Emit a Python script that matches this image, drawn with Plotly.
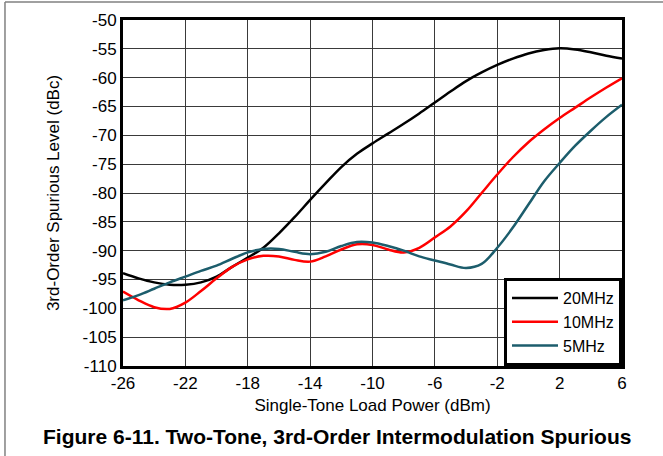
import plotly.graph_objects as go

load_power = [-26, -25, -24, -23, -22, -21, -20, -19, -18, -17, -16, -15, -14, -13, -12, -11, -10,
              -9, -8, -7, -6, -5, -4, -3, -2, -1, 0, 1, 2, 3, 4, 5, 6]

spur_20mhz = [-93.9, -94.8, -95.5, -95.9, -95.9, -95.5, -94.5, -92.8, -91.2, -89.5, -87.0, -84.2,
              -81.2, -78.3, -75.5, -73.2, -71.4, -69.7, -68.0, -66.2, -64.3, -62.4, -60.6, -59.1,
              -57.8, -56.7, -55.8, -55.2, -54.9, -55.1, -55.6, -56.2, -56.7]

spur_10mhz = [-97.1, -98.6, -99.8, -100.1, -99.0, -97.0, -94.8, -92.8, -91.5, -90.9, -91.0, -91.6,
              -91.9, -91.0, -89.8, -88.9, -89.0, -89.8, -90.3, -89.5, -87.7, -85.8, -83.2, -80.0,
              -76.8, -73.8, -71.2, -69.0, -67.0, -65.2, -63.4, -61.7, -60.1]

spur_5mhz = [-98.6, -97.7, -96.6, -95.5, -94.5, -93.5, -92.6, -91.4, -90.3, -89.7, -89.7, -90.2,
             -90.6, -90.2, -89.2, -88.5, -88.6, -89.2, -90.0, -91.0, -91.7, -92.4, -93.0, -92.3,
             -89.5, -86.0, -82.0, -78.0, -74.8, -71.8, -69.2, -66.8, -64.7]

x_ticks = [-26, -22, -18, -14, -10, -6, -2, 2, 6]
y_ticks = [-110, -105, -100, -95, -90, -85, -80, -75, -70, -65, -60, -55, -50]

series = [
    ("20MHz", spur_20mhz, "#000000"),
    ("10MHz", spur_10mhz, "#FF0000"),
    ("5MHz", spur_5mhz, "#1C5D6C"),
]

fig = go.Figure()
for name, vals, color in series:
    fig.add_trace(go.Scatter(
        x=load_power, y=vals, name=name, mode="lines",
        line=dict(color=color, width=2.5, shape="spline", smoothing=1.0),
    ))

font_family = "Liberation Sans, Arial, sans-serif"

fig.update_layout(
    width=663, height=456,
    margin=dict(l=123, r=41, t=20, b=90),
    paper_bgcolor="white", plot_bgcolor="white",
    font=dict(family=font_family, size=17, color="black"),
    showlegend=True,
    legend=dict(
        x=1, y=0, xanchor="right", yanchor="bottom",
        bgcolor="white", bordercolor="black", borderwidth=3,
        font=dict(size=16, color="black"),
        itemwidth=46,
    ),
    xaxis=dict(
        range=[-26, 6], tickvals=x_ticks, ticktext=[str(v) for v in x_ticks],
        showgrid=True, gridcolor="#3a3a3a", gridwidth=1,
        showline=True, linecolor="black", linewidth=3, mirror=True,
        ticks="", zeroline=False,
        title=dict(text="Single-Tone Load Power (dBm)", font=dict(size=17), standoff=7),
        tickfont=dict(size=17),
    ),
    yaxis=dict(
        range=[-110, -50], tickvals=y_ticks, ticktext=[str(v) for v in y_ticks],
        showgrid=True, gridcolor="#3a3a3a", gridwidth=1,
        showline=True, linecolor="black", linewidth=3, mirror=True,
        ticks="", zeroline=False,
        title=dict(text="3rd-Order Spurious Level (dBc)", font=dict(size=17), standoff=19),
        tickfont=dict(size=17),
    ),
)

fig.add_annotation(
    text="<b>Figure 6-11. Two-Tone, 3rd-Order Intermodulation Spurious</b>",
    xref="paper", yref="paper", x=0.429, y=-0.204, xanchor="center", yanchor="middle",
    showarrow=False, font=dict(size=21, color="black", family=font_family),
)

# outer frame of the figure panel
fig.add_shape(type="line", xref="paper", yref="paper", x0=-0.2365, x1=-0.2365, y0=-0.4, y1=1.052,
              line=dict(color="#808080", width=1.5))
fig.add_shape(type="line", xref="paper", yref="paper", x0=-0.2365, x1=1.2, y0=1.052, y1=1.052,
              line=dict(color="#808080", width=1.5))

fig.write_html("out.html", config={"displayModeBar": False},
               post_script="document.body.style.margin='0';")
